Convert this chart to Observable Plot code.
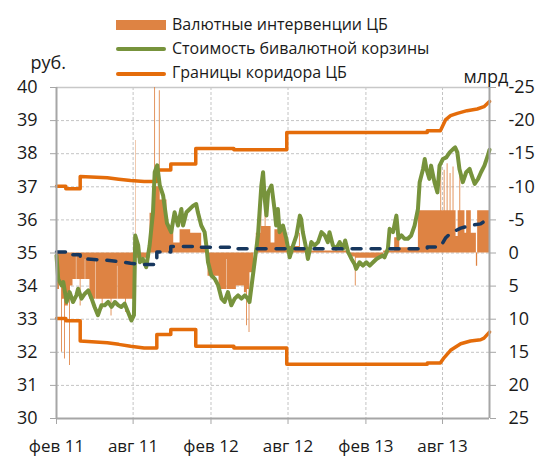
<!DOCTYPE html>
<html><head><meta charset="utf-8">
<script src="https://cdn.jsdelivr.net/npm/d3@7"></script>
<script src="https://cdn.jsdelivr.net/npm/@observablehq/plot@0.6"></script>
<style>
body{margin:0;background:#fff;font-family:"Open Sans",sans-serif;}
#wrap{position:relative;width:537px;height:458px;}
.lg{position:absolute;font-size:16px;line-height:24px;color:#1a1a1a;white-space:nowrap;}
.sw{position:absolute;}
</style></head><body>
<div id="wrap"></div>
<script>
// ---- Data ----
const seriesNames = ["Валютные интервенции ЦБ", "Стоимость бивалютной корзины", "Границы коридора ЦБ"];
const colBars = "#DE8343", colBasket = "#77933C", colCorr = "#E46C0A", colCenter = "#17375E";

const tickDates = ["2011-02-01","2011-08-01","2012-02-01","2012-08-01","2013-02-01","2013-08-01"];
const tickLabels = ["фев 11","авг 11","фев 12","авг 12","фев 13","авг 13"];
const yTicks = [30,31,32,33,34,35,36,37,38,39,40];

// basket value, rub
const basketDates = ["2011-02-01","2011-02-05","2011-02-13","2011-02-17","2011-02-25","2011-03-04","2011-03-12","2011-03-20","2011-03-24","2011-04-01","2011-04-09","2011-04-17","2011-04-25","2011-05-02","2011-05-10","2011-05-18","2011-05-26","2011-06-03","2011-06-11","2011-06-19","2011-06-27","2011-07-04","2011-07-12","2011-07-20","2011-07-28","2011-08-03","2011-08-06","2011-08-13","2011-08-17","2011-08-24","2011-09-01","2011-09-09","2011-09-17","2011-09-21","2011-09-27","2011-10-03","2011-10-11","2011-10-20","2011-10-30","2011-11-07","2011-11-15","2011-11-23","2011-11-27","2011-12-05","2011-12-13","2011-12-21","2011-12-28","2012-01-01","2012-01-09","2012-01-17","2012-01-21","2012-01-25","2012-02-02","2012-02-10","2012-02-18","2012-02-26","2012-03-04","2012-03-12","2012-03-20","2012-03-28","2012-04-05","2012-04-13","2012-04-21","2012-04-28","2012-05-02","2012-05-06","2012-05-14","2012-05-22","2012-05-30","2012-06-03","2012-06-07","2012-06-11","2012-06-15","2012-06-23","2012-06-30","2012-07-04","2012-07-08","2012-07-12","2012-07-20","2012-07-28","2012-08-05","2012-08-13","2012-08-21","2012-08-29","2012-09-01","2012-09-05","2012-09-13","2012-09-17","2012-09-25","2012-10-03","2012-10-11","2012-10-19","2012-10-27","2012-11-03","2012-11-07","2012-11-15","2012-11-23","2012-12-01","2012-12-09","2012-12-14","2012-12-21","2012-12-29","2013-01-05","2013-01-09","2013-01-17","2013-01-25","2013-02-02","2013-02-10","2013-02-18","2013-02-26","2013-03-05","2013-03-13","2013-03-17","2013-03-25","2013-03-29","2013-04-06","2013-04-14","2013-04-19","2013-04-26","2013-05-03","2013-05-11","2013-05-19","2013-05-27","2013-06-04","2013-06-08","2013-06-16","2013-06-20","2013-06-24","2013-07-01","2013-07-05","2013-07-13","2013-07-20","2013-07-25","2013-08-02","2013-08-10","2013-08-18","2013-08-26","2013-08-31","2013-09-05","2013-09-10","2013-09-18","2013-09-26","2013-10-04","2013-10-09","2013-10-16","2013-10-24","2013-10-31","2013-11-08","2013-11-16","2013-11-20"];
const basketValues = [34.92,34.22,34.02,34.12,33.52,33.82,33.52,33.72,33.92,33.62,33.77,33.87,33.62,33.37,33.12,33.42,33.42,33.52,33.37,33.52,33.42,33.37,33.47,33.22,32.96,33.12,35.53,35.23,34.72,34.82,34.57,35.23,36.23,37.44,37.65,37.04,36.73,35.9,35.63,36.23,35.83,36.33,35.83,36.23,36.33,36.43,36.48,36.23,35.83,35.63,35.23,34.72,34.32,34.22,34.02,33.62,33.52,33.82,33.42,33.62,33.72,33.62,33.72,33.62,33.52,33.92,34.72,35.53,37.04,37.44,36.63,36.13,36.83,37.04,36.33,35.83,36.33,35.63,35.83,35.43,34.87,35.23,35.53,36.13,36.03,35.63,35.13,34.82,35.33,35.23,35.33,35.63,35.53,35.33,35.63,35.23,35.13,35.33,35.13,35.38,35.03,34.82,34.67,34.52,34.72,34.62,34.72,34.62,34.72,34.82,34.87,34.92,34.87,35.13,35.73,35.63,36.13,35.43,35.53,35.43,35.43,35.53,35.83,36.33,37.14,37.54,37.84,37.54,37.24,37.64,37.14,36.83,37.64,37.84,37.89,38.04,38.14,38.19,38.04,37.54,37.14,37.44,37.54,37.34,37.09,37.24,37.44,37.64,37.94,38.12];

// corridor upper / lower bounds, rub
const upperDates = ["2011-02-01","2011-02-23","2011-02-23","2011-03-29","2011-03-29","2011-06-01","2011-06-28","2011-07-26","2011-08-27","2011-09-26","2011-09-26","2011-10-29","2011-10-29","2011-12-27","2011-12-27","2012-03-26","2012-03-26","2012-07-29","2012-07-29","2013-06-26","2013-06-26","2013-07-27","2013-08-08","2013-08-20","2013-09-05","2013-09-28","2013-10-22","2013-11-07","2013-11-20"];
const upperValues = [37.02,37.02,36.94,36.94,37.31,37.27,37.23,37.19,37.16,37.16,37.51,37.51,37.69,37.69,38.16,38.16,38.12,38.12,38.64,38.64,38.69,38.69,39.02,39.15,39.22,39.30,39.35,39.42,39.58];
const lowerDates = ["2011-02-01","2011-02-23","2011-02-23","2011-03-29","2011-03-29","2011-06-01","2011-06-28","2011-07-26","2011-08-27","2011-09-26","2011-09-26","2011-10-29","2011-10-29","2011-12-27","2011-12-27","2012-03-26","2012-03-26","2012-07-29","2012-07-29","2013-06-26","2013-06-26","2013-07-27","2013-08-05","2013-08-20","2013-09-13","2013-10-06","2013-10-30","2013-11-07","2013-11-20"];
const lowerValues = [33.02,33.02,32.95,32.95,32.34,32.29,32.24,32.18,32.13,32.13,32.54,32.54,32.69,32.69,32.18,32.18,32.13,32.13,31.64,31.64,31.68,31.68,31.84,32.06,32.26,32.34,32.38,32.43,32.61];
// corridor centre (dashed), rub
const centerDates = ["2011-02-01","2011-02-23","2011-02-23","2011-03-29","2011-03-29","2011-06-01","2011-06-28","2011-07-26","2011-08-27","2011-09-26","2011-09-26","2011-10-29","2011-10-29","2011-12-27","2011-12-27","2012-03-26","2012-03-26","2013-06-26","2013-06-26","2013-07-27","2013-08-08","2013-08-20","2013-09-13","2013-10-06","2013-10-30","2013-11-07","2013-11-20"];
const centerValues = [35.03,35.03,34.95,34.95,34.83,34.78,34.74,34.69,34.65,34.65,35.03,35.03,35.2,35.2,35.17,35.17,35.13,35.13,35.18,35.18,35.45,35.6,35.75,35.83,35.88,35.95,36.12];

// CB interventions, bn (right axis; negative = above zero line)
const barDates = ["2011-02-01","2011-02-08","2011-02-13","2011-02-15","2011-02-20","2011-02-22","2011-03-01","2011-03-04","2011-03-06","2011-03-12","2011-03-20","2011-03-21","2011-03-29","2011-03-31","2011-04-10","2011-04-11","2011-04-21","2011-05-05","2011-05-06","2011-05-20","2011-05-22","2011-06-10","2011-06-12","2011-06-25","2011-06-26","2011-07-14","2011-07-16","2011-08-05","2011-08-07","2011-08-08","2011-09-10","2011-09-21","2011-09-23","2011-10-02","2011-10-04","2011-10-20","2011-11-05","2011-11-20","2011-12-15","2012-01-10","2012-01-25","2012-02-20","2012-03-10","2012-03-11","2012-04-01","2012-04-20","2012-04-25","2012-04-27","2012-05-01","2012-05-03","2012-05-12","2012-05-18","2012-05-29","2012-05-31","2012-06-08","2012-06-10","2012-06-22","2012-07-01","2012-07-28","2012-08-28","2012-08-30","2012-09-25","2012-12-25","2013-01-07","2013-01-09","2013-03-15","2013-04-10","2013-04-22","2013-06-05","2013-07-28","2013-07-30","2013-08-05","2013-08-07","2013-08-12","2013-08-14","2013-08-19","2013-08-21","2013-08-26","2013-08-28","2013-09-02","2013-09-07","2013-09-11","2013-09-13","2013-09-23","2013-09-27","2013-10-08","2013-10-20","2013-10-23","2013-11-20"];
const barValues = [5.5,4.5,15,7,16,8,6,17,5,4,0.5,4,8,4,1,4,7,1,7,8.5,7,9.5,7,2,7,9,7,4,-17,0.8,-6,-25,-10,-24.5,-8,-4,-1.5,-3.5,-3,-0.8,3.5,5.5,1,5.5,5,6,11,5.5,12,3,0,-3,-8.5,-4,-6.5,-4,-1.5,-3.5,-1,-3,-0.8,-0.3,0.6,5,0.8,-0.3,-2.3,-0.8,-6.4,-13,-6.4,-12.5,-6.4,-13.5,-6.4,-12,-6.4,-13,-6.4,-2.5,-6.4,-12.5,-6.4,-3,-6.4,-3,2,-6.4,-6.4];

// ---- Build ----
const parse = d3.utcParse("%Y-%m-%d");
const zip = (ds, vs) => ds.map((d, i) => ({date: parse(d), value: vs[i]}));
const basket = zip(basketDates, basketValues);
const upper = zip(upperDates, upperValues);
const lower = zip(lowerDates, lowerValues);
const center = zip(centerDates, centerValues);
const bars = zip(barDates, barValues);
const ticks = tickDates.map(parse);
const labelOf = new Map(ticks.map((d, i) => [+d, tickLabels[i]]));
const x0 = parse("2011-02-01"), x1 = parse("2013-11-20");
const grey = "#a6a6a6", gridC = "#c4c4c4";
const fmtR = d => { const v = Math.round((35 - d) * 5); return v < 0 ? "-" + (-v) : String(v); };

const chart = Plot.plot({
  width: 537, height: 458,
  marginLeft: 56, marginRight: 48, marginTop: 87, marginBottom: 40,
  style: {fontFamily: '"Open Sans", sans-serif', fontSize: "18px", color: "#1a1a1a", background: "white", overflow: "visible"},
  x: {type: "utc", domain: [x0, x1]},
  y: {domain: [30, 40]},
  marks: [
    Plot.ruleY(yTicks.slice(1, -1), {stroke: gridC, strokeDasharray: "3,2"}),
    Plot.ruleX(ticks.slice(1), {stroke: gridC, strokeDasharray: "3,2"}),
    Plot.ruleY([40], {stroke: "#c8c8c8", strokeWidth: 1.5}),
    Plot.areaY(bars, {x: "date", y1: 35, y2: d => 35 - d.value / 5, curve: "step-after", fill: colBars}),
    Plot.line(upper, {x: "date", y: "value", stroke: colCorr, strokeWidth: 3.5}),
    Plot.line(lower, {x: "date", y: "value", stroke: colCorr, strokeWidth: 3.5}),
    Plot.line(basket, {x: "date", y: "value", stroke: colBasket, strokeWidth: 4, strokeLinejoin: "round"}),
    Plot.line(center, {x: "date", y: "value", stroke: colCenter, strokeWidth: 3.5, strokeDasharray: "9,10", strokeLinecap: "round"}),
    Plot.ruleX([x0], {stroke: grey, strokeWidth: 2}),
    Plot.ruleX([x1], {stroke: grey, strokeWidth: 2}),
    Plot.ruleY([30], {stroke: grey, strokeWidth: 2}),
    Plot.axisY({anchor: "left", ticks: yTicks, tickSize: 6, tickPadding: 13, stroke: grey, fill: "#1a1a1a", label: null}),
    Plot.axisY({anchor: "right", ticks: yTicks, tickSize: 6, tickPadding: 13, stroke: grey, fill: "#1a1a1a", tickFormat: fmtR, label: null}),
    Plot.axisX({ticks: ticks, tickFormat: d => labelOf.get(+d), tickSize: 6, tickPadding: 15, stroke: grey, fill: "#1a1a1a", fontSize: 17, label: null}),
    Plot.text(["руб."], {text: d => d, frameAnchor: "top-left", dx: -26, dy: -18.5, textAnchor: "start", lineAnchor: "bottom", fill: "#1a1a1a"}),
    Plot.text(["млрд"], {text: d => d, frameAnchor: "top-right", dx: -26, dy: -4.5, textAnchor: "start", lineAnchor: "bottom", fill: "#1a1a1a"})
  ]
});
const wrap = document.getElementById("wrap");
wrap.appendChild(chart);

// legend (overlay in top margin)
const legendRows = [
  {name: seriesNames[0], color: colBars, h: 10, top: 20},
  {name: seriesNames[1], color: colBasket, h: 4, top: 47.3},
  {name: seriesNames[2], color: colCorr, h: 4, top: 72}
];
const baselines = [30.5, 54, 78];
legendRows.forEach((r, i) => {
  const sw = document.createElement("div");
  sw.className = "sw";
  sw.style.cssText = `left:116px;top:${r.top}px;width:50px;height:${r.h}px;background:${r.color};border-radius:${r.h < 10 ? 2 : 0}px`;
  wrap.appendChild(sw);
  const t = document.createElement("div");
  t.className = "lg";
  t.style.left = "172px";
  t.style.top = (baselines[i] - 18.2) + "px";
  t.textContent = r.name;
  wrap.appendChild(t);
});
</script>
</body></html>
